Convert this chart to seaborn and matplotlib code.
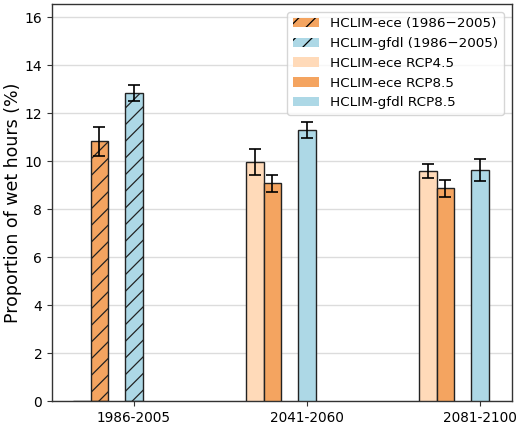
import numpy as np
import pandas as pd
import matplotlib
matplotlib.use("Agg")
import matplotlib.pyplot as plt
from matplotlib.patches import Patch
import seaborn as sns

# ---- data ----
periods = ["1986-2005", "2041-2060", "2081-2100"]
ece_hist = [10.82, 0.0, 0.0]
ece_hist_err = [0.60, 0.0, 0.0]
gfdl_hist = [12.83, 0.0, 0.0]
gfdl_hist_err = [0.33, 0.0, 0.0]
ece_rcp45 = [0.0, 9.96, 9.58]
ece_rcp45_err = [0.0, 0.53, 0.29]
ece_rcp85 = [0.0, 9.08, 8.86]
ece_rcp85_err = [0.0, 0.36, 0.35]
gfdl_rcp85 = [0.0, 11.29, 9.63]
gfdl_rcp85_err = [0.0, 0.33, 0.46]

labels = ["HCLIM-ece (1986\u22122005)", "HCLIM-gfdl (1986\u22122005)",
          "HCLIM-ece RCP4.5", "HCLIM-ece RCP8.5", "HCLIM-gfdl RCP8.5"]

# ---- style ----
sns.set_style("ticks")
plt.rcParams["font.family"] = ["DejaVu Sans"]
plt.rcParams["hatch.color"] = "black"
plt.rcParams["hatch.linewidth"] = 0.9
plt.rcParams["text.color"] = "black"
plt.rcParams["axes.labelcolor"] = "black"
plt.rcParams["xtick.color"] = "black"
plt.rcParams["ytick.color"] = "black"

fig = plt.figure(figsize=(5.16, 4.24), dpi=100)
ax = fig.add_axes([0.1008, 0.0542, 0.8914, 0.9364])

bw = 0.1
series = [
    (ece_hist, ece_hist_err, -0.2, "sandybrown", "//"),
    (gfdl_hist, gfdl_hist_err, 0.0, "lightblue", "//"),
    (ece_rcp45, ece_rcp45_err, -0.3, "peachpuff", None),
    (ece_rcp85, ece_rcp85_err, -0.2, "sandybrown", None),
    (gfdl_rcp85, gfdl_rcp85_err, 0.0, "lightblue", None),
]

idx = np.arange(len(periods))
for vals, errs, off, col, hatch in series:
    xs = idx + off
    df = pd.DataFrame({"x": xs, "y": vals})
    kw = dict(edgecolor="#222222", linewidth=1.0, zorder=3)
    if hatch:
        kw["hatch"] = hatch
    sns.barplot(data=df, x="x", y="y", native_scale=True, orient="x",
                width=bw, color=col, saturation=1, errorbar=None, ax=ax, **kw)
    v = np.array(vals)
    e = np.array(errs)
    m = v > 0
    ax.errorbar(xs[m], v[m], yerr=e[m], fmt="none", ecolor="black",
                elinewidth=1.2, capsize=4, capthick=1.2, zorder=4)

ax.set_xlim(-0.474, 2.185)
ax.set_ylim(0, 16.55)
ax.set_xticks(idx)
ax.set_xticklabels(periods)
ax.set_yticks(np.arange(0, 17, 2))
ax.tick_params(axis="y", labelsize=10, color="#333333", labelcolor="black")
ax.tick_params(axis="x", labelsize=9.8, color="#333333", labelcolor="black")
ax.set_xlabel("")
ax.set_ylabel("Proportion of wet hours (%)", fontsize=12.5, labelpad=2,
              color="black")
ax.grid(axis="y", color="#dcdcdc", linewidth=1.0, zorder=0)
ax.set_axisbelow(True)
for s in ax.spines.values():
    s.set_visible(True)
    s.set_color("#333333")
    s.set_linewidth(1.0)

handles = [
    Patch(facecolor="sandybrown", hatch="//", edgecolor="black", linewidth=0),
    Patch(facecolor="lightblue", hatch="//", edgecolor="black", linewidth=0),
    Patch(facecolor="peachpuff", linewidth=0),
    Patch(facecolor="sandybrown", linewidth=0),
    Patch(facecolor="lightblue", linewidth=0),
]
leg = ax.legend(handles, labels, loc="upper right", fontsize=9.7, frameon=True,
                borderaxespad=0.6)
for t in leg.get_texts():
    t.set_color("black")

fig.savefig("out.png", dpi=100)
